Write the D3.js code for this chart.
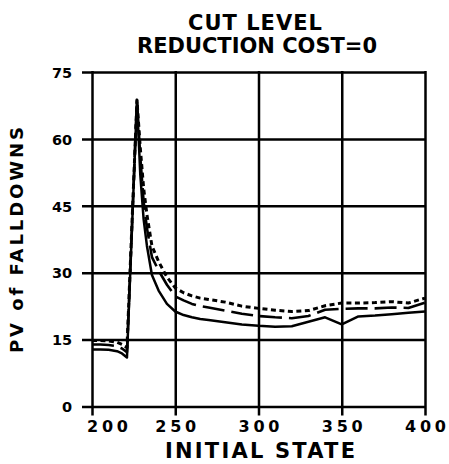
<!DOCTYPE html>
<html>
<head>
<meta charset="utf-8">
<script src="https://cdn.jsdelivr.net/npm/d3@7"></script>
<style>
  html, body { margin: 0; padding: 0; background: #fff; }
  svg { display: block; }
  text { font-family: "DejaVu Sans", "Liberation Sans", sans-serif; font-weight: bold; fill: #000; }
</style>
</head>
<body>
<svg id="chart" width="449" height="464"></svg>
<script>
// Initial state on the horizontal axis
const states = [200, 205, 210, 215, 218, 221, 227, 229, 231, 233, 236, 240, 245, 250, 255, 260, 265, 270,
                280, 290, 300, 310, 320, 330, 340, 350, 360, 370, 380, 390, 400];

// Present value of falldowns, three cut-level policies
const solidSeries  = [12.8, 12.8, 12.7, 12.4, 11.9, 11.0, 68.7, 52, 42, 36, 29.5, 26, 23, 21.3, 20.5, 20.0, 19.6, 19.4,
                      18.9, 18.4, 18.1, 17.9, 18.0, 19.0, 20.0, 18.4, 20.2, 20.4, 20.7, 21.0, 21.3];
const dashedSeries = [13.9, 13.9, 13.8, 13.5, 13.0, 12.2, 68.7, 56, 46, 40, 33.5, 30.5, 27.3, 24.7, 23.8, 23.0, 22.5, 22.2,
                      21.5, 20.8, 20.3, 20.0, 19.8, 20.3, 21.7, 21.9, 22.0, 22.0, 22.2, 22.1, 23.3];
const dottedSeries = [14.8, 14.8, 14.7, 14.4, 13.9, 13.2, 68.7, 58, 49, 43, 36, 32.5, 29, 26.6, 25.5, 24.8, 24.3, 24.0,
                      23.4, 22.5, 22.0, 21.6, 21.3, 21.5, 22.6, 23.2, 23.2, 23.3, 23.5, 23.2, 24.3];

const xTicks = [200, 250, 300, 350, 400];
const yTicks = [0, 15, 30, 45, 60, 75];

const titleLines = ["CUT LEVEL", "REDUCTION COST=0"];
const xTitle = "INITIAL STATE";
const yTitle = "PV of FALLDOWNS";

const svg = d3.select("#chart");

const x = d3.scaleLinear().domain([200, 400]).range([92, 425]);
const y = d3.scaleLinear().domain([0, 75]).range([406.5, 72]);
const plotW = x.range()[1] - x.range()[0];
const plotH = y.range()[0] - y.range()[1];

// Left axis: the tick lines span the plot and form the horizontal grid
const gy = svg.append("g")
  .attr("transform", `translate(${x.range()[0]},0)`)
  .call(d3.axisLeft(y).tickValues(yTicks).tickSizeInner(-plotW).tickSizeOuter(0).tickPadding(0));
gy.select(".domain").remove();
gy.selectAll(".tick line")
  .attr("x1", -10).attr("x2", plotW + 1)
  .attr("stroke", "#000").attr("stroke-width", 2.5);
gy.selectAll(".tick text")
  .attr("x", -20).attr("dy", "0.36em")
  .attr("text-anchor", "end")
  .style("font-size", "14.5px")
  .each(function(d) {
    if (String(d).length > 1) d3.select(this).attr("textLength", 20).attr("lengthAdjust", "spacing");
  });

// Bottom axis: the tick lines span the plot and form the vertical grid
const gx = svg.append("g")
  .attr("transform", `translate(0,${y.range()[0]})`)
  .call(d3.axisBottom(x).tickValues(xTicks).tickSizeInner(-plotH).tickSizeOuter(0).tickPadding(0));
gx.select(".domain").remove();
gx.selectAll(".tick line")
  .attr("y1", 9).attr("y2", -plotH - 1)
  .attr("stroke", "#000").attr("stroke-width", 2.5);
gx.selectAll(".tick text")
  .attr("y", 25.5).attr("dy", 0)
  .attr("text-anchor", "middle")
  .attr("textLength", 41).attr("lengthAdjust", "spacing")
  .style("font-size", "16px")
  .attr("dx", (d, i) => i === 0 ? 15 : 0);

// Series lines
const line = d3.line()
  .x((d, i) => x(states[i]))
  .y(d => y(d));

const series = [
  { values: solidSeries,  dash: null,    width: 2.5 },
  { values: dashedSeries, dash: "22,7",  width: 2.6 },
  { values: dottedSeries, dash: "5,3.5", width: 3 }
];

svg.append("g").selectAll("path")
  .data(series)
  .join("path")
  .attr("d", s => line(s.values))
  .attr("fill", "none")
  .attr("stroke", "#000")
  .attr("stroke-width", s => s.width)
  .attr("stroke-linejoin", "round")
  .attr("stroke-dasharray", s => s.dash);

// Title
svg.append("text")
  .attr("x", 255).attr("y", 30)
  .attr("text-anchor", "middle")
  .attr("textLength", 134).attr("lengthAdjust", "spacing")
  .style("font-size", "21px")
  .text(titleLines[0]);
svg.append("text")
  .attr("x", 257).attr("y", 53)
  .attr("text-anchor", "middle")
  .attr("textLength", 240).attr("lengthAdjust", "spacingAndGlyphs")
  .style("font-size", "21px")
  .text(titleLines[1]);

// Axis titles
svg.append("text")
  .attr("x", 260).attr("y", 458)
  .attr("text-anchor", "middle")
  .attr("textLength", 190).attr("lengthAdjust", "spacing")
  .style("font-size", "21px")
  .text(xTitle);
svg.append("text")
  .attr("transform", "translate(23,240) rotate(-90)")
  .attr("text-anchor", "middle")
  .attr("textLength", 226).attr("lengthAdjust", "spacing")
  .style("font-size", "18px")
  .text(yTitle);
</script>
</body>
</html>
